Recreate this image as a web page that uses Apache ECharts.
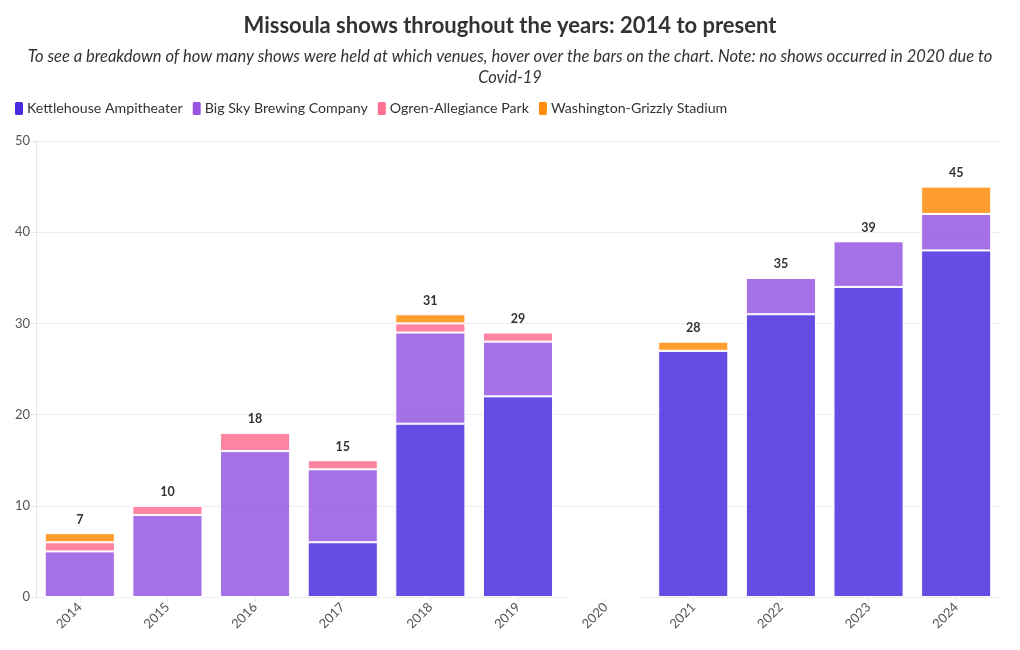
<!DOCTYPE html>
<html><head><meta charset="utf-8">
<script src="https://cdn.jsdelivr.net/npm/echarts@6/dist/echarts.min.js"></script>
<style>html,body{margin:0;padding:0;background:#fff}#c{width:1020px;height:650px}</style>
</head><body><div id="c"></div>
<script>
var years = ['2014','2015','2016','2017','2018','2019','2020','2021','2022','2023','2024'];
var kettlehouse = [0,0,0,6,19,22,0,27,31,34,38];
var bigSky      = [5,9,16,8,10,6,0,0,4,5,4];
var ogren       = [1,1,2,1,1,1,0,0,0,0,0];
var washington  = [1,0,0,0,1,0,0,1,0,0,3];
var totals = years.map(function(_, i){ return kettlehouse[i]+bigSky[i]+ogren[i]+washington[i]; });

var FONT = 'Lato, "Noto Sans", sans-serif';
var chart = echarts.init(document.getElementById('c'));
function ser(name, data, barColor){
  return {name:name, type:'bar', stack:'s', data:data, barCategoryGap:'20%',
    itemStyle:{color:barColor, borderColor:'#fff', borderWidth:1}};
}
chart.setOption({
  animation:false,
  textStyle:{fontFamily:FONT},
  title:{text:'Missoula shows throughout the years: 2014 to present', left:'center', top:10,
    textStyle:{fontFamily:FONT, fontSize:22, fontWeight:'bold', color:'#333'}},
  graphic:[{type:'text', x:510, y:46,
    style:{text:'To see a breakdown of how many shows were held at which venues, hover over the bars on the chart. Note: no shows occurred in 2020 due to\nCovid-19',
      fontFamily:FONT, fontSize:16.5, fontStyle:'italic', fill:'#333', lineHeight:21, align:'center', verticalAlign:'top'}}],
  legend:{left:8, top:95, itemWidth:10, itemHeight:15, itemGap:8, icon:'roundRect',
    textStyle:{fontFamily:FONT, fontSize:14.2, color:'#333', padding:[0,0,0,-2]},
    data:[{name:'Kettlehouse Ampitheater', itemStyle:{color:'#4a2de0'}},
          {name:'Big Sky Brewing Company', itemStyle:{color:'#9b55e3'}},
          {name:'Ogren-Allegiance Park', itemStyle:{color:'#ff6f92'}},
          {name:'Washington-Grizzly Stadium', itemStyle:{color:'#ff8c0a'}}]},
  grid:{left:36, right:20, top:141, bottom:53},
  xAxis:{type:'category', data:years,
    axisLine:{show:false}, axisTick:{show:true, alignWithLabel:true, lineStyle:{color:'#e6e6e6'}, length:5},
    axisLabel:{rotate:45, color:'#555', fontSize:13, fontFamily:FONT, margin:8}},
  yAxis:{type:'value', min:0, max:50, interval:10,
    axisLine:{show:true, lineStyle:{color:'#e6e6e6'}}, axisTick:{show:true, length:5, lineStyle:{color:'#e6e6e6'}},
    splitLine:{lineStyle:{color:'#ececec'}},
    axisLabel:{color:'#555', fontSize:13, fontFamily:FONT, margin:6}},
  series:[
    ser('Kettlehouse Ampitheater', kettlehouse, 'rgba(74,45,224,0.85)'),
    ser('Big Sky Brewing Company', bigSky, 'rgba(150,88,227,0.85)'),
    ser('Ogren-Allegiance Park', ogren, 'rgba(255,110,145,0.85)'),
    ser('Washington-Grizzly Stadium', washington, 'rgba(255,140,10,0.85)'),
    {name:'Total', type:'bar', stack:'s', data:totals.map(function(){return 0;}), silent:true,
      itemStyle:{color:'transparent'},
      label:{show:true, position:'top', distance:7, fontFamily:FONT, fontSize:12.5, fontWeight:'bold', color:'#333',
        formatter:function(p){ return totals[p.dataIndex] ? String(totals[p.dataIndex]) : ''; }}}
  ]
});
</script></body></html>
